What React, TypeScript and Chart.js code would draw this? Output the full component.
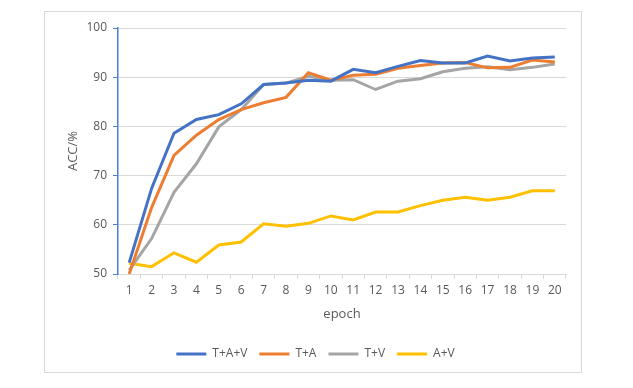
import React, { useEffect, useRef } from "react";
import { Chart, registerables } from "chart.js";

Chart.register(...registerables);

const epochs = ["1","2","3","4","5","6","7","8","9","10","11","12","13","14","15","16","17","18","19","20"];
const tav = [52.3, 67.4, 78.6, 81.4, 82.4, 84.6, 88.5, 88.8, 89.4, 89.2, 91.6, 90.9, 92.2, 93.4, 92.9, 92.9, 94.3, 93.3, 93.9, 94.1];
const ta = [50.0, 63.5, 74.1, 78.2, 81.4, 83.4, 84.8, 85.9, 90.9, 89.4, 90.4, 90.6, 91.8, 92.4, 92.9, 93.0, 91.9, 92.0, 93.5, 93.1];
const tv = [50.8, 57.2, 66.6, 72.4, 79.9, 83.4, 88.5, 88.8, 90.2, 89.4, 89.5, 87.5, 89.2, 89.7, 91.1, 91.8, 92.1, 91.5, 92.0, 92.7];
const av = [52.2, 51.5, 54.3, 52.4, 55.9, 56.5, 60.2, 59.7, 60.3, 61.8, 61.0, 62.6, 62.6, 63.9, 65.0, 65.6, 65.0, 65.6, 66.9, 66.9];
const seriesNames = ["T+A+V", "T+A", "T+V", "A+V"];
const seriesColors = ["#4472C4", "#ED7D31", "#A5A5A5", "#FFC000"];
const yTicks = [50, 60, 70, 80, 90, 100];

export default function App() {
  const ref = useRef<HTMLCanvasElement | null>(null);
  useEffect(() => {
    if (!ref.current) return;
    const data = [tav, ta, tv, av];
    const font = "'Open Sans', 'Noto Sans', sans-serif";
    const chart = new Chart(ref.current, {
      type: "line",
      data: {
        labels: epochs,
        datasets: data.map((d, i) => ({
          label: seriesNames[i],
          data: d,
          borderColor: seriesColors[i],
          backgroundColor: seriesColors[i],
          borderWidth: 3,
          pointRadius: 0,
          pointStyle: "line",
          tension: 0,
          fill: false,
        })),
      },
      options: {
        animation: false,
        responsive: false,
        layout: { padding: { left: 65, right: 67, top: 28, bottom: 18 } },
        plugins: {
          tooltip: { enabled: false },
          legend: {
            position: "bottom",
            labels: {
              usePointStyle: true,
              pointStyleWidth: 30,
              boxHeight: 12,
              padding: 12,
              color: "#595959",
              font: { family: font, size: 12 },
            },
          },
        },
        scales: {
          x: {
            offset: true,
            afterFit: (s: any) => { s.height = 62; },
            border: { color: "#D9D9D9", width: 1 },
            grid: {
              offset: true,
              drawOnChartArea: true,
              color: (c: any) => (c.index === epochs.length ? "#D9D9D9" : "rgba(0,0,0,0)"),
              tickColor: "#D9D9D9",
              tickLength: 5,
            },
            ticks: { color: "#595959", font: { family: font, size: 12 }, padding: 4, maxRotation: 0, autoSkip: false },
            title: { display: true, text: "epoch", color: "#595959", font: { family: font, size: 13 }, padding: { top: 0, bottom: 14 } },
          },
          y: {
            min: yTicks[0],
            max: yTicks[yTicks.length - 1],
            afterFit: (s: any) => { s.width = 118 - 65; },
            afterBuildTicks: (s: any) => { s.ticks = yTicks.map((v) => ({ value: v })); },
            border: { color: "#4A7FD8", width: 1.5 },
            grid: { color: "#D9D9D9", tickColor: "#4A7FD8", tickLength: 5 },
            ticks: { color: "#595959", font: { family: font, size: 12 }, padding: 6 },
            title: { display: true, text: "ACC/%", color: "#595959", font: { family: font, size: 13 }, padding: 0 },
          },
        },
      },
    });
    return () => chart.destroy();
  }, []);
  return (
    <div style={{ position: "fixed", left: 0, top: 0, width: 633, height: 388, background: "#fff" }}>
      <canvas ref={ref} width={633} height={388} style={{ position: "absolute", left: 0, top: 0 }} />
      <div style={{ position: "absolute", left: 44, top: 11, width: 538, height: 362, boxSizing: "border-box", border: "1px solid #D9D9D9", pointerEvents: "none" }} />
    </div>
  );
}
